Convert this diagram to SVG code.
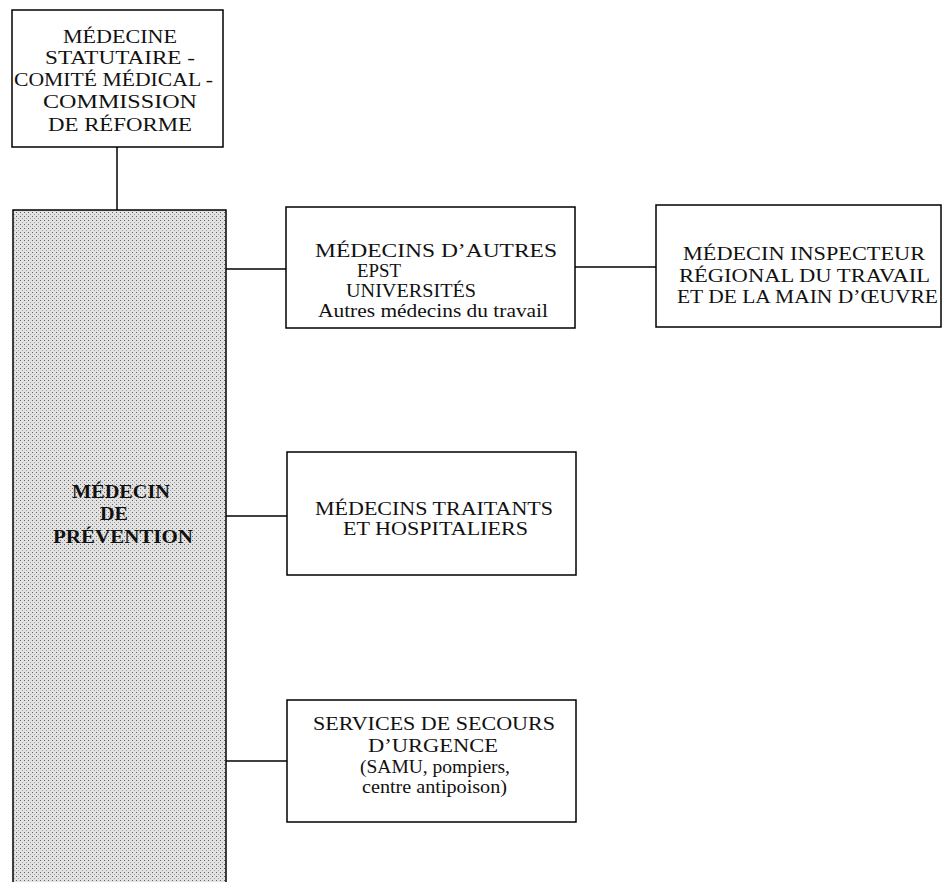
<svg xmlns="http://www.w3.org/2000/svg" width="948" height="882" viewBox="0 0 948 882">
<style>
.box{fill:#fff;stroke:#000;stroke-width:1.5}
.t{font-family:"Liberation Serif","Times New Roman",serif;font-size:19px;fill:#111;text-anchor:start}
.b{font-family:"Liberation Serif","Times New Roman",serif;font-size:19px;font-weight:bold;fill:#111}
.c line{stroke:#000;stroke-width:1.5}
</style>
<defs>
<pattern id="stip" width="4" height="4" patternUnits="userSpaceOnUse">
<rect width="4" height="4" fill="#e2e2e2"/>
<rect x="0" y="0" width="1" height="1" fill="#666"/>
<rect x="2" y="2" width="1" height="1" fill="#a0a0a0"/>
</pattern>
</defs>
<rect width="948" height="882" fill="#fff"/>
<g class="c" id="connectors">
<line x1="117" y1="147" x2="117" y2="210"/>
<line x1="226" y1="269" x2="286" y2="269"/>
<line x1="575" y1="267" x2="656" y2="267"/>
<line x1="226" y1="516" x2="287" y2="516"/>
<line x1="226" y1="761" x2="287" y2="761"/>
</g>
<g id="statutaire">
<rect class="box" x="12" y="10" width="211" height="137"/>
<text class="t" x="63" y="43" textLength="114" lengthAdjust="spacingAndGlyphs">MÉDECINE</text>
<text class="t" x="45" y="64" textLength="150" lengthAdjust="spacingAndGlyphs">STATUTAIRE -</text>
<text class="t" x="14" y="86" textLength="199" lengthAdjust="spacingAndGlyphs">COMITÉ MÉDICAL -</text>
<text class="t" x="43" y="108" textLength="154" lengthAdjust="spacingAndGlyphs">COMMISSION</text>
<text class="t" x="48" y="131" textLength="144" lengthAdjust="spacingAndGlyphs">DE RÉFORME</text>
</g>
<g id="prevention">
<path d="M13 882 V210 H226 V882" fill="url(#stip)" stroke="#000" stroke-width="1.5"/>
<text class="b" x="72" y="498" textLength="98" lengthAdjust="spacingAndGlyphs">MÉDECIN</text>
<text class="b" x="100" y="520" textLength="28" lengthAdjust="spacingAndGlyphs">DE</text>
<text class="b" x="53" y="543" textLength="140" lengthAdjust="spacingAndGlyphs">PRÉVENTION</text>
</g>
<g id="autres">
<rect class="box" x="286" y="207" width="289" height="121"/>
<text class="t" x="315" y="257" textLength="242" lengthAdjust="spacingAndGlyphs">MÉDECINS D’AUTRES</text>
<text class="t" x="357" y="277" textLength="44" lengthAdjust="spacingAndGlyphs">EPST</text>
<text class="t" x="346" y="297" textLength="130" lengthAdjust="spacingAndGlyphs">UNIVERSITÉS</text>
<text class="t" x="318" y="317" textLength="230" lengthAdjust="spacingAndGlyphs">Autres médecins du travail</text>
</g>
<g id="inspecteur">
<rect class="box" x="656" y="205" width="285" height="122"/>
<text class="t" x="683" y="260" textLength="242" lengthAdjust="spacingAndGlyphs">MÉDECIN INSPECTEUR</text>
<text class="t" x="679" y="282" textLength="251" lengthAdjust="spacingAndGlyphs">RÉGIONAL DU TRAVAIL</text>
<text class="t" x="677" y="303" textLength="261" lengthAdjust="spacingAndGlyphs">ET DE LA MAIN D’ŒUVRE</text>
</g>
<g id="traitants">
<rect class="box" x="287" y="452" width="289" height="123"/>
<text class="t" x="315" y="515" textLength="238" lengthAdjust="spacingAndGlyphs">MÉDECINS TRAITANTS</text>
<text class="t" x="343" y="535" textLength="185" lengthAdjust="spacingAndGlyphs">ET HOSPITALIERS</text>
</g>
<g id="secours">
<rect class="box" x="287" y="700" width="289" height="122"/>
<text class="t" x="313" y="730" textLength="242" lengthAdjust="spacingAndGlyphs">SERVICES DE SECOURS</text>
<text class="t" x="368" y="752" textLength="130" lengthAdjust="spacingAndGlyphs">D’URGENCE</text>
<text class="t" x="360" y="773" textLength="150" lengthAdjust="spacingAndGlyphs">(SAMU, pompiers,</text>
<text class="t" x="362" y="793" textLength="145" lengthAdjust="spacingAndGlyphs">centre antipoison)</text>
</g>
</svg>
